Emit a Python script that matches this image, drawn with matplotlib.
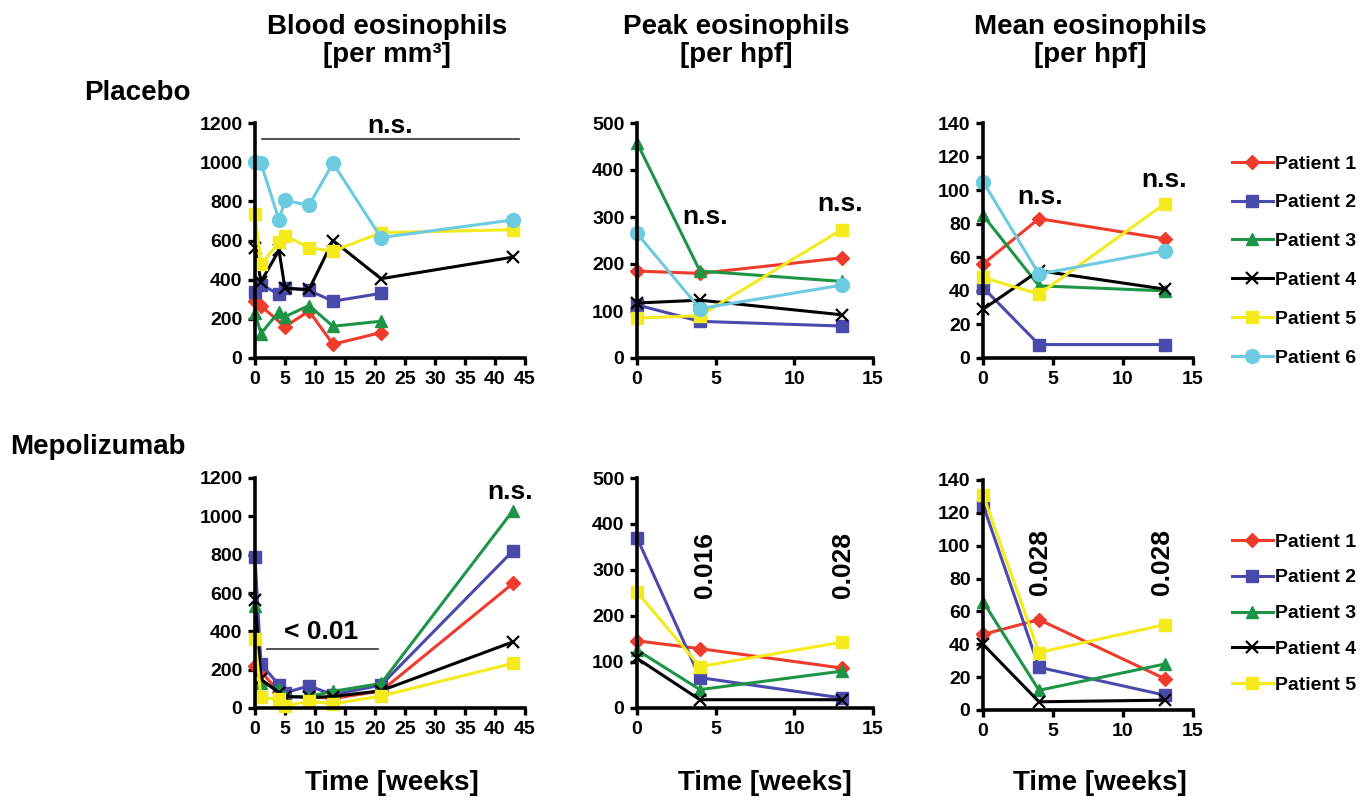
import numpy as np
import matplotlib
matplotlib.use('Agg')
import matplotlib.pyplot as plt

plt.rcParams['font.family'] = ['Liberation Sans', 'DejaVu Sans']
plt.rcParams['font.weight'] = 'bold'

# time points
weeks_blood = [0, 1, 4, 5, 9, 13, 21, 43]
weeks_biopsy = [0, 4, 13]
nan = np.nan

patients = ['Patient 1', 'Patient 2', 'Patient 3', 'Patient 4', 'Patient 5', 'Patient 6']
colors = ['#ee3b2b', '#4a4aad', '#1e9446', '#000000', '#f4ea1c', '#6ccbe0']
markers = ['D', 's', '^', 'x', 's', 'o']
msizes = [7, 9, 9, 9, 9, 10]

# placebo: blood eosinophils per mm3
pl_blood = [
    [290, 265, nan, 160, 240, 70, 130, nan],
    [335, 375, 325, 360, 345, 290, 330, nan],
    [230, 125, 237, 211, 268, 162, 188, nan],
    [560, 390, 550, 355, 350, 600, 405, 515],
    [735, 480, 590, 625, 563, 545, 640, 655],
    [1000, 995, 705, 805, 780, 995, 615, 705],
]
# placebo: peak / mean eosinophils per hpf
pl_peak = [
    [185, 180, 213],
    [113, 78, 68],
    [458, 185, 163],
    [117, 123, 92],
    [85, 90, 273],
    [265, 105, 155],
]
pl_mean = [
    [56, 83, 71],
    [42, 8, 8],
    [85, 43, 40],
    [29, 52, 41],
    [48, 38, 92],
    [105, 50, 64],
]

# mepolizumab
mp_blood = [
    [219, 190, 85, 60, 60, 50, 88, 650],
    [788, 230, 120, 80, 115, 70, 119, 820],
    [530, 130, 100, 60, 60, 87, 128, 1030],
    [565, 150, 80, 60, 55, 60, 90, 345],
    [362, 55, 45, 10, 35, 22, 62, 233],
]
mp_peak = [
    [146, 129, 87],
    [370, 66, 22],
    [126, 40, 80],
    [108, 18, 18],
    [252, 90, 143],
]
mp_mean = [
    [46, 55, 19],
    [125, 26, 9],
    [66, 12, 28],
    [40, 5, 6],
    [131, 35, 52],
]

W, H = 1370, 801
fig = plt.figure(figsize=(W / 100, H / 100), dpi=100)


def px_axes(x0, x1, ytop, ybot):
    return fig.add_axes([x0 / W, 1 - ybot / H, (x1 - x0) / W, (ybot - ytop) / H])


def style(ax, xmax, xstep, ymax, ystep):
    ax.set_xlim(0, xmax)
    ax.set_ylim(0, ymax)
    ax.set_xticks(np.arange(0, xmax + 1, xstep))
    ax.set_yticks(np.arange(0, ymax + 1, ystep))
    for s in ['top', 'right']:
        ax.spines[s].set_visible(False)
    for s in ['left', 'bottom']:
        ax.spines[s].set_linewidth(2.6)
    ax.tick_params(width=2.4, length=5, labelsize=14, pad=4)
    for lab in ax.get_xticklabels() + ax.get_yticklabels():
        lab.set_fontweight('bold')
    ax.set_facecolor('none')


def draw(ax, x, data):
    x = np.array(x, dtype=float)
    for i, vals in enumerate(data):
        v = np.array(vals, dtype=float)
        m = ~np.isnan(v)
        mew = 1.6 if markers[i] == 'x' else 1
        ax.plot(x[m], v[m], color=colors[i], marker=markers[i], ms=msizes[i],
                lw=2.2, mew=mew, clip_on=False, label=patients[i])


# top row
ax1 = px_axes(255, 525, 123, 358)
ax2 = px_axes(637, 873, 123, 358)
ax3 = px_axes(983, 1193, 123, 358)
# bottom row
ax4 = px_axes(255, 525, 478, 708)
ax5 = px_axes(637, 873, 478, 708)
ax6 = px_axes(983, 1193, 480, 710)

draw(ax1, weeks_blood, pl_blood)
draw(ax2, weeks_biopsy, pl_peak)
draw(ax3, weeks_biopsy, pl_mean)
draw(ax4, weeks_blood, mp_blood)
draw(ax5, weeks_biopsy, mp_peak)
draw(ax6, weeks_biopsy, mp_mean)

for ax in (ax1, ax4):
    style(ax, 45, 5, 1200, 200)
for ax in (ax2, ax5):
    style(ax, 15, 5, 500, 100)
for ax in (ax3, ax6):
    style(ax, 15, 5, 140, 20)

# significance marks
tk = dict(fontsize=19, fontweight='bold', ha='center', va='center')
ax1.plot([1.2, 44], [1118, 1118], color='#333333', lw=1.2, clip_on=False)
ax1.text(22.5, 1185, 'n.s.', **tk)
ax2.text(4.3, 301, 'n.s.', **tk)
ax2.text(12.9, 327, 'n.s.', **tk)
ax3.text(4.1, 96, 'n.s.', **tk)
ax3.text(12.9, 106, 'n.s.', **tk)

ax4.plot([2, 20.5], [308, 308], color='#333333', lw=1.2)
ax4.text(11, 395, '< 0.01', **tk)
ax4.text(42.5, 1125, 'n.s.', **tk)
ax5.text(4.3, 310, '0.016', rotation=90, **tk)
ax5.text(13.1, 310, '0.028', rotation=90, **tk)
ax6.text(4.1, 90, '0.028', rotation=90, **tk)
ax6.text(12.8, 90, '0.028', rotation=90, **tk)

# headings
hk = dict(fontsize=20, fontweight='bold', ha='center', va='center')
fig.text(387 / W, 1 - 27 / H, 'Blood eosinophils', **hk)
fig.text(387 / W, 1 - 55 / H, '[per mm³]', **hk)
fig.text(736 / W, 1 - 27 / H, 'Peak eosinophils', **hk)
fig.text(736 / W, 1 - 55 / H, '[per hpf]', **hk)
fig.text(1090 / W, 1 - 27 / H, 'Mean eosinophils', **hk)
fig.text(1090 / W, 1 - 55 / H, '[per hpf]', **hk)
fig.text(84 / W, 1 - 93 / H, 'Placebo', fontsize=20, fontweight='bold', ha='left', va='center')
fig.text(10 / W, 1 - 447 / H, 'Mepolizumab', fontsize=20, fontweight='bold', ha='left', va='center')
for xc in (392, 765, 1100):
    fig.text(xc / W, 1 - 783 / H, 'Time [weeks]', **hk)

# legends
lk = dict(loc='upper left', frameon=False, handlelength=2.1, handletextpad=0.1,
          borderpad=0, borderaxespad=0, prop={'size': 14, 'weight': 'bold'})
h, l = ax1.get_legend_handles_labels()
fig.legend(h, l, bbox_to_anchor=(1232 / W, 1 - 155 / H), labelspacing=1.09, **lk)
h, l = ax4.get_legend_handles_labels()
fig.legend(h, l, bbox_to_anchor=(1232 / W, 1 - 533 / H), labelspacing=0.94, **lk)

fig.savefig('out.png', dpi=100)
